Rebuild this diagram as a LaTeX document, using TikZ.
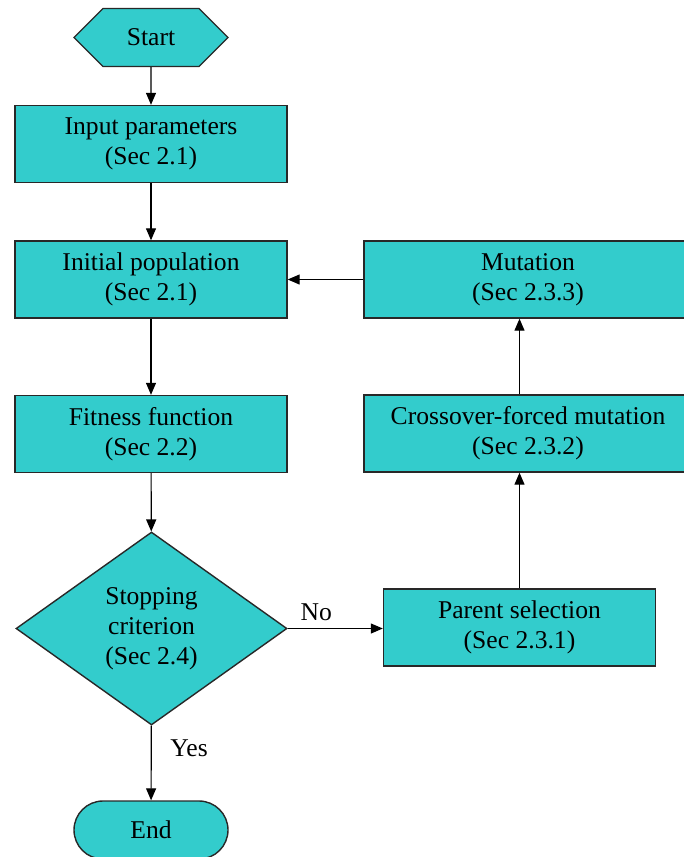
\documentclass[tikz,border=0pt]{standalone}
\usepackage{fontspec}
\setmainfont{Liberation Serif}
\usetikzlibrary{shapes.geometric,shapes.symbols,arrows.meta}
\definecolor{turq}{RGB}{51,204,204}
\definecolor{edge}{RGB}{40,40,40}

\begin{document}
\begin{tikzpicture}[x=0.5pt, y=-0.5pt,
    block/.style={rectangle, draw=edge, fill=turq, line width=0.7pt,
        minimum width=136pt, minimum height=38.5pt, align=center,
        inner sep=0pt, font=\fontsize{12.8}{15}\selectfont},
    terminal/.style={block, minimum width=77pt, minimum height=29pt},
    decision/.style={block, diamond, minimum width=135.5pt, minimum height=96.5pt},
    >={Triangle[length=6pt,width=5pt]}, line width=0.6pt]

    \useasboundingbox (0,0) rectangle (684,857);

    % main column
    \node[terminal, signal, signal to=west and east, signal pointer angle=90] (start) at (151,37.5) {Start};
    \node[block] (input) at (151,144) {Input parameters\\(Sec 2.1)};
    \node[block] (init) at (151,279.5) {Initial population\\(Sec 2.1)};
    \node[block] (fit) at (151,434) {Fitness function\\(Sec 2.2)};
    \node[decision] (stop) at (151.5,628.5) {Stopping\\criterion\\(Sec 2.4)};
    \node[terminal, rounded corners=14.5pt] (end) at (151,830) {End};

    % right column
    \node[block] (parent) at (519.5,627.5) {Parent selection\\(Sec 2.3.1)};
    \node[block, minimum width=164pt] (cross) at (528,433.5) {Crossover-forced mutation\\(Sec 2.3.2)};
    \node[block, minimum width=164pt] (mut) at (528,279.5) {Mutation\\(Sec 2.3.3)};

    \draw[->] (start) -- (input);
    \draw[->] (input) -- (init);
    \draw[->] (init) -- (fit);
    \draw[->] (fit) -- (stop);
    \draw[->] (stop) -- node[right, pos=0.3, font=\fontsize{12.8}{15}\selectfont, xshift=6pt] (yes) {Yes} (end);
    \draw[->] (stop.east) -- node[above, pos=0.3, font=\fontsize{12.8}{15}\selectfont] (no) {No} (stop.east -| parent.west);
    \draw[->] (parent.north) -- (parent.north |- cross.south);
    \draw[->] (parent.north |- cross.north) -- (parent.north |- mut.south);
    \draw[->] (mut.west) -- (init.east);
\end{tikzpicture}
\end{document}
